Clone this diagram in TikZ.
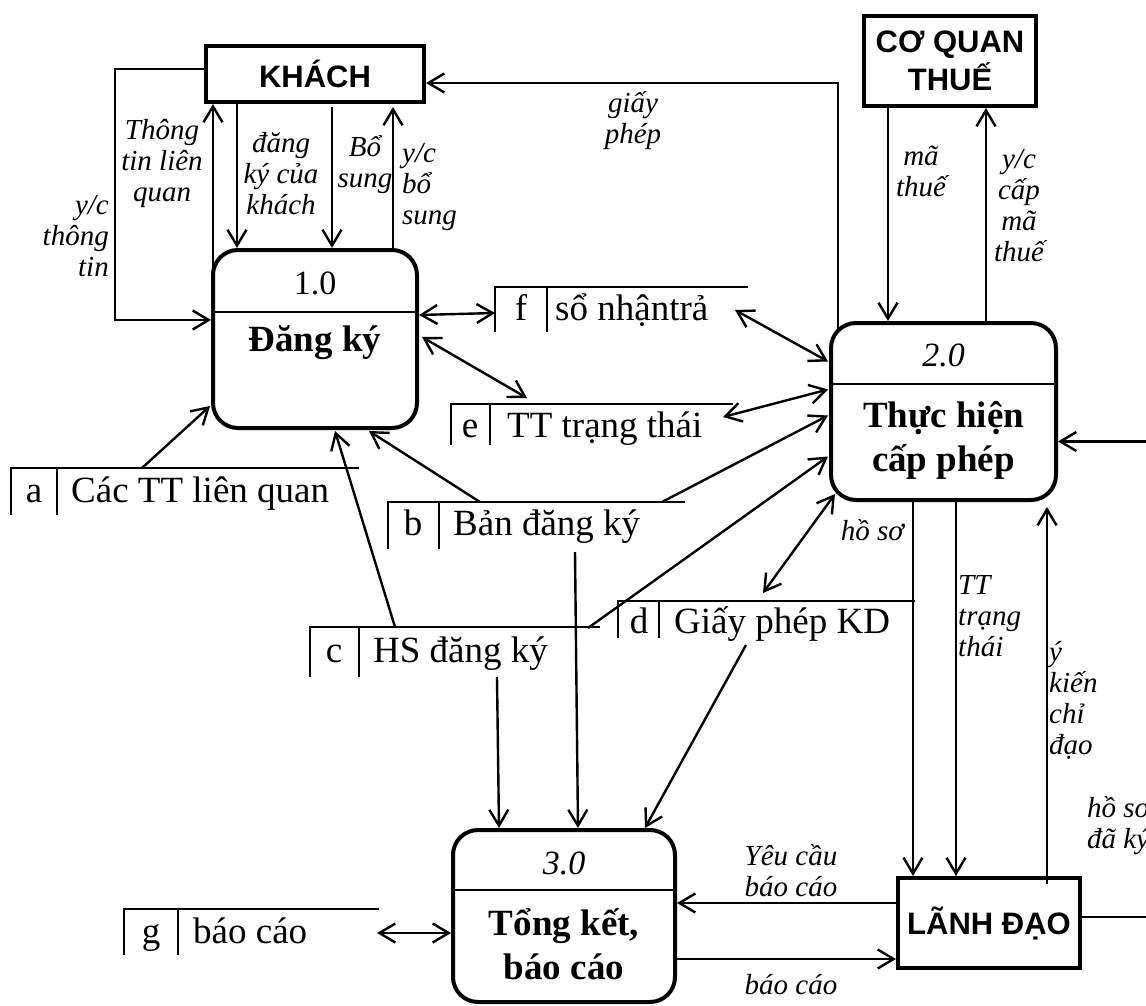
\documentclass[tikz,border=0pt]{standalone}
\usepackage{fontspec}
\setmainfont{Liberation Serif}
\setsansfont{Liberation Sans}
\usetikzlibrary{calc,arrows.meta}

\newcommand{\fkho}{\fontsize{37}{40}\selectfont}
\newcommand{\fnhan}{\fontsize{29}{31}\selectfont\itshape}
\newcommand{\fso}{\fontsize{34}{36}\selectfont}
\newcommand{\ften}{\fontsize{37}{44}\selectfont\bfseries}
\newcommand{\fthucthe}{\fontsize{31}{38}\selectfont\sffamily\bfseries}

\tikzset{
  thucthe/.style={draw, line width=4pt, rectangle, outer sep=0pt, align=center, font=\fthucthe},
  xuly/.style={draw, line width=4pt, rectangle, rounded corners=25pt, outer sep=0pt},
  kho/.style={rectangle, anchor=north west, inner sep=0pt, outer sep=0pt},
  vien/.style={line width=2.4pt},
  luong/.style={line width=2.4pt},
  nhan/.style={font=\fnhan, align=center, inner sep=1pt},
  chu/.style={font=\fkho, inner sep=0pt},
}

\begin{document}
\begin{tikzpicture}[x=1pt, y=-1pt, >={Straight Barb[length=16pt,width=19pt]}, line join=miter]
    \useasboundingbox (0,0) rectangle (1146,1006);
    \clip (0,0) rectangle (1146,1006);

    % thuc the
    \node[thucthe, minimum width=218pt, minimum height=56pt] (khach) at (315,74) {KHÁCH};
    \node[thucthe, minimum width=172pt, minimum height=90pt] (thue) at (950,61) {CƠ QUAN\\THUẾ};
    \node[thucthe, minimum width=182pt, minimum height=90pt] (lanhdao) at (989,923) {LÃNH ĐẠO};

    % xu ly
    \node[xuly, minimum width=204pt, minimum height=178pt] (dangky) at (315,339) {};
    \draw[line width=2pt] ($(dangky.north west)+(0,62)$) -- ($(dangky.north east)+(0,62)$);
    \node[font=\fso] (so1) at ($(dangky.north)+(0,33)$) {1.0};
    \node[font=\ften] (ten1) at ($(dangky.north)+(0,93)$) {Đăng ký};

    \node[xuly, minimum width=225pt, minimum height=177pt] (capphep) at (943.5,411.5) {};
    \draw[line width=2pt] ($(capphep.north west)+(0,61)$) -- ($(capphep.north east)+(0,61)$);
    \node[font=\fso\itshape] (so2) at ($(capphep.north)+(0,32)$) {2.0};
    \node[font=\ften, align=center] (ten2) at ($(capphep.north)+(0,117)$) {Thực hiện\\cấp phép};

    \node[xuly, minimum width=222pt, minimum height=172pt] (tongket) at (564,916) {};
    \draw[line width=2pt] ($(tongket.north west)+(0,60)$) -- ($(tongket.north east)+(0,60)$);
    \node[font=\fso\itshape] (so3) at ($(tongket.north)+(0,33)$) {3.0};
    \node[font=\ften, align=center] (ten3) at ($(tongket.north)+(0,114)$) {Tổng kết,\\báo cáo};

    % kho du lieu
    \node[kho, minimum width=348pt, minimum height=47pt] (a) at (11,468) {};
    \draw[vien] (a.south west) |- (a.north east);
    \draw[vien] ($(a.north west)+(46,0)$) -- ($(a.south west)+(46,0)$);
    \node[chu, anchor=base] (a1) at ($(a.north west)+(23,34)$) {a};
    \node[chu, anchor=base west] (a2) at ($(a.north west)+(60,34)$) {Các TT liên quan};

    \node[kho, minimum width=297pt, minimum height=47pt] (b) at (388,502) {};
    \draw[vien] (b.south west) |- (b.north east);
    \draw[vien] ($(b.north west)+(51,0)$) -- ($(b.south west)+(51,0)$);
    \node[chu, anchor=base] (b1) at ($(b.north west)+(25,33)$) {b};
    \node[chu, anchor=base west] (b2) at ($(b.north west)+(65,33)$) {Bản đăng ký};

    \node[kho, minimum width=290pt, minimum height=50pt] (c) at (310,627) {};
    \draw[vien] (c.south west) |- (c.north east);
    \draw[vien] ($(c.north west)+(49,0)$) -- ($(c.south west)+(49,0)$);
    \node[chu, anchor=base] (c1) at ($(c.north west)+(24,35)$) {c};
    \node[chu, anchor=base west] (c2) at ($(c.north west)+(63,35)$) {HS đăng ký};

    \node[kho, minimum width=297pt, minimum height=37pt] (d) at (618,601) {};
    \draw[vien] (d.south west) |- (d.north east);
    \draw[vien] ($(d.north west)+(41,0)$) -- ($(d.south west)+(41,0)$);
    \node[chu, anchor=base] (d1) at ($(d.north west)+(21,32)$) {d};
    \node[chu, anchor=base west] (d2) at ($(d.north west)+(56,32)$) {Giấy phép KD};

    \node[kho, minimum width=282pt, minimum height=41pt] (e) at (451,404) {};
    \draw[vien] (e.south west) |- (e.north east);
    \draw[vien] ($(e.north west)+(39,0)$) -- ($(e.south west)+(39,0)$);
    \node[chu, anchor=base] (e1) at ($(e.north west)+(19,33)$) {e};
    \node[chu, anchor=base west] (e2) at ($(e.north west)+(56,33)$) {TT trạng thái};

    \node[kho, minimum width=253pt, minimum height=45pt] (f) at (495,287) {};
    \draw[vien] (f.south west) |- (f.north east);
    \draw[vien] ($(f.north west)+(52,0)$) -- ($(f.south west)+(52,0)$);
    \node[chu, anchor=base] (f1) at ($(f.north west)+(26,33)$) {f};
    \node[chu, anchor=base west] (f2) at ($(f.north west)+(60,33)$) {sổ nhậntrả};

    \node[kho, minimum width=255pt, minimum height=46pt] (g) at (124,909) {};
    \draw[vien] (g.south west) |- (g.north east);
    \draw[vien] ($(g.north west)+(54,0)$) -- ($(g.south west)+(54,0)$);
    \node[chu, anchor=base] (g1) at ($(g.north west)+(27,34)$) {g};
    \node[chu, anchor=base west] (g2) at ($(g.north west)+(69,34)$) {báo cáo};

    % khach - dang ky
    \draw[luong,->] ($(khach.west)+(0,-5)$) -- ++(-91,0) |- ($(dangky.west)+(-2,-19)$);
    \node[nhan, align=right, anchor=east] (n1) at (110,236) {y/c\\thông\\tin};
    \draw[luong,->] ($(dangky.north west)+(0,25)$) -- ($(khach.south west)+(7,2)$);
    \node[nhan] (n2) at (162,164) {Thông\\tin liên\\quan};
    \draw[luong,->] ($(khach.south west)+(31,2)$) -- ($(dangky.north west)+(24,-2)$);
    \node[nhan] (n3) at (281,174) {đăng\\ký của\\khách};
    \draw[luong,->] ($(khach.south west)+(126,5)$) -- ($(dangky.north west)+(119,-2)$);
    \node[nhan] (n4) at (365,165) {Bổ\\sung};
    \draw[luong,->] ($(dangky.north west)+(180,0)$) -- ($(khach.south west)+(187,5)$);
    \node[nhan, align=left, anchor=west] (n5) at (401,187) {y/c\\bổ\\sung};

    % giay phep
    \draw[luong,->] ($(capphep.north west)+(7,8)$) |- ($(khach.east)+(2,9)$);
    \node[nhan] (n6) at (633,121) {giấy\\phép};

    % co quan thue
    \draw[luong,->] ($(thue.south west)+(24,2)$) -- ($(capphep.north west)+(57,-2)$);
    \node[nhan] (n7) at (921,171) {mã\\thuế};
    \draw[luong,->] ($(capphep.north west)+(155,0)$) -- ($(thue.south west)+(122,2)$);
    \node[nhan] (n8) at (1019,206) {y/c\\cấp\\mã\\thuế};

    % kho f, e
    \draw[luong,<->] ($(dangky.east)+(2,-24)$) -- ($(f.north west)+(0,26)$);
    \draw[luong,<->] ($(dangky.east)+(5,-2)$) -- ($(e.north west)+(76,-6)$);
    \draw[luong,<->] ($(f.north west)+(240,23)$) -- ($(capphep.west)+(-3,-50)$);
    \draw[luong,<->] ($(e.north west)+(272,13)$) -- ($(capphep.west)+(-3,-22)$);

    % kho a, b, c
    \draw[luong,->] ($(a.north west)+(131,0)$) -- ($(dangky.west)+(-3,67)$);
    \draw[luong,->] ($(b.north west)+(92,0)$) -- ($(dangky.south)+(54,3)$);
    \draw[luong,->] ($(b.north west)+(274,0)$) -- ($(capphep.west)+(-3,4)$);
    \draw[luong,->] ($(c.north west)+(85,0)$) -- ($(dangky.south)+(20,3)$);
    \draw[luong,->] ($(c.north west)+(278,1)$) -- ($(capphep.west)+(-3,45)$);
    \draw[luong,->] ($(c.south west)+(187,0)$) -- ($(tongket.north west)+(46,-2)$);
    \draw[luong,->] ($(b.south west)+(187,3)$) -- ($(tongket.north west)+(125,-2)$);

    % kho d
    \draw[luong,<->] ($(capphep.south west)+(4,-6)$) -- ($(d.north west)+(145,-8)$);
    \draw[luong,->] ($(d.north west)+(128,44)$) -- ($(tongket.north)+(81,-2)$);

    % kho g
    \draw[luong,<->] ($(g.north west)+(253,24)$) -- ($(tongket.west)+(-2,17)$);

    % lanh dao
    \draw[luong,->] ($(lanhdao.west)+(0,-20)$) -- ($(tongket.east)+(2,-13)$);
    \node[nhan] (n9) at (791,871) {Yêu cầu\\báo cáo};
    \draw[luong,->] ($(tongket.east)+(2,43)$) -- ($(lanhdao.west)+(-2,36)$);
    \node[nhan] (n10) at (791,985) {báo cáo};

    \draw[luong,->] ($(capphep.south west)+(82,0)$) -- ($(lanhdao.north west)+(15,-2)$);
    \node[nhan, anchor=east] (n11) at (905,530) {hồ sơ};
    \draw[luong,->] ($(capphep.south west)+(125,0)$) -- ($(lanhdao.north west)+(58,-2)$);
    \node[nhan, align=left, anchor=west] (n12) at (957,616) {TT\\trạng\\thái};
    \draw[luong,->] ($(lanhdao.north west)+(149,6)$) -- ($(capphep.south east)+(-9,7)$);
    \node[nhan, align=left, anchor=west] (n13) at (1048,700) {ý\\kiến\\chỉ\\đạo};
    \draw[luong,->] ($(lanhdao.east)+(0,-6)$) -- ++(90,0) |- ($(capphep.east)+(2,30)$);
    \node[nhan, align=left, anchor=west] (n14) at (1086,826) {hồ sơ\\đã ký};
\end{tikzpicture}
\end{document}
